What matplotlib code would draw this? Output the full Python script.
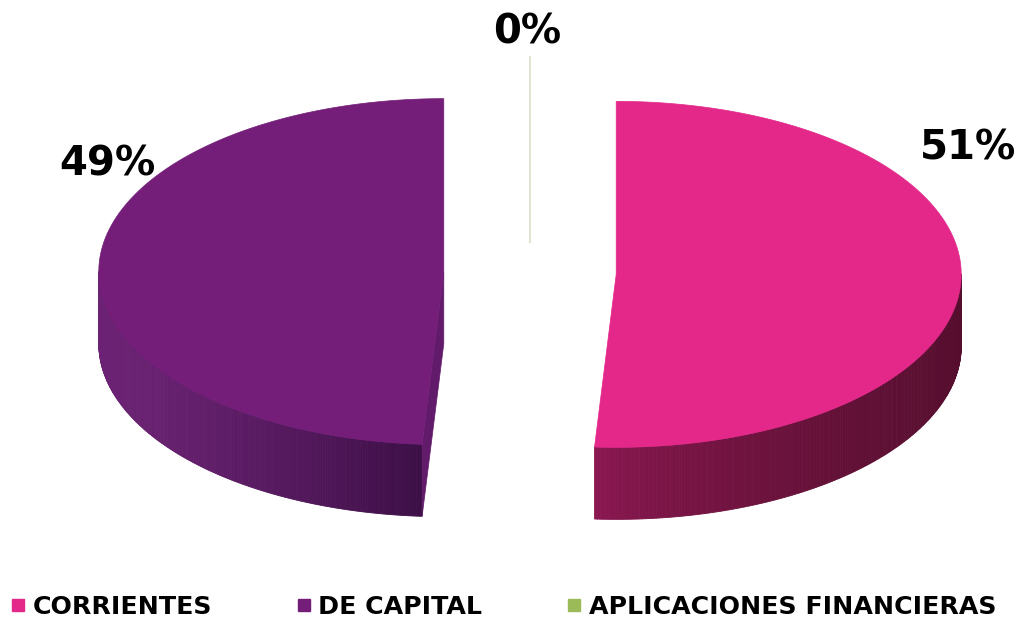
import numpy as np
import matplotlib
matplotlib.use("Agg")
import matplotlib.pyplot as plt
from matplotlib.collections import PolyCollection
from matplotlib.patches import Polygon
from matplotlib.lines import Line2D
from matplotlib.colors import to_rgb

categories = ["CORRIENTES", "DE CAPITAL", "APLICACIONES FINANCIERAS"]
values = [51, 49, 0]
labels = ["51%", "49%", "0%"]
top_colors = ["#E3288A", "#741E7A", "#9BBB59"]
side_left_colors = ["#8C1852", "#6C2274", "#9BBB59"]
side_right_colors = ["#560E2E", "#3C0F46", "#9BBB59"]

W, H = 1026, 621
fig = plt.figure(figsize=(W / 100, H / 100), dpi=100)
ax = fig.add_axes([0, 0, 1, 1])
ax.set_xlim(0, W)
ax.set_ylim(H, 0)
ax.axis("off")

# layout (pixels)
CX, CY = 530, 273
RX, RY = 345, 173
DEPTH = 72
EXPLODE = 0.25


def pt(cx, cy, th, r=1.0):
    return (cx + r * RX * np.sin(th), cy - r * RY * np.cos(th))


def lerp(c1, c2, t):
    a, b = np.array(to_rgb(c1)), np.array(to_rgb(c2))
    return tuple(a + (b - a) * t)


total = sum(values)
start = 0.0
slices = []
for i, v in enumerate(values):
    a0 = start
    a1 = start + 2 * np.pi * v / total
    start = a1
    mid = (a0 + a1) / 2
    cx = CX + EXPLODE * RX * np.sin(mid)
    cy = CY - EXPLODE * RY * np.cos(mid)
    slices.append((i, a0, a1, cx, cy))

# zero slice: thin line
for i, a0, a1, cx, cy in slices:
    if values[i] == 0:
        x1, y1 = pt(cx, cy, a0)
        ax.plot([cx, x1], [cy + 12, y1], color="#E0E5D2", lw=1.5, zorder=1)

order = [s for s in slices if values[s[0]] > 0]
order.sort(key=lambda s: s[3])
for i, a0, a1, cx, cy in order:
    # outer side face (front facing where pi/2 < theta < 3pi/2)
    s0, s1 = max(a0, np.pi / 2), min(a1, 3 * np.pi / 2)
    if s1 > s0:
        ths = np.linspace(s0, s1, 200)
        xs = [pt(cx, cy, t)[0] for t in ths]
        xmin, xmax = min(xs), max(xs)
        quads, cols = [], []
        for k in range(len(ths) - 1):
            p0 = pt(cx, cy, ths[k])
            p1 = pt(cx, cy, ths[k + 1])
            quads.append([p0, p1, (p1[0], p1[1] + DEPTH), (p0[0], p0[1] + DEPTH)])
            xm = (p0[0] + p1[0]) / 2
            t = (xm - xmin) / (xmax - xmin)
            if i == 0:
                cols.append(lerp(side_left_colors[i], side_right_colors[i], t ** 0.7))
            else:
                cols.append(lerp(side_left_colors[i], side_right_colors[i], t ** 1.3))
        pc = PolyCollection(quads, facecolors=cols, edgecolors=cols, linewidths=0.6, zorder=2)
        ax.add_collection(pc)
    # radial faces that face the viewer
    for ang in (a0, a1):
        if np.cos(ang) < 0:
            ox, oy = pt(cx, cy, ang)
            if (ang == a0 and np.sin(ang) < 0) or (ang == a1 and np.sin(ang) > 0):
                face = [(cx, cy), (ox, oy), (ox, oy + DEPTH), (cx, cy + DEPTH)]
                ax.add_patch(Polygon(face, closed=True, facecolor="#621A6A",
                                     edgecolor="#621A6A", lw=0.5, zorder=2.5))
    # top face
    ths = np.linspace(a0, a1, 300)
    poly = [(cx, cy)] + [pt(cx, cy, t) for t in ths]
    ax.add_patch(Polygon(poly, closed=True, facecolor=top_colors[i],
                         edgecolor=top_colors[i], lw=0.5, zorder=3))

# percentage labels
label_pos = {0: (968, 148), 1: (107, 165), 2: (527, 32)}
for i in range(len(values)):
    x, y = label_pos[i]
    ax.text(x, y, labels[i], ha="center", va="center", fontsize=29,
            fontweight="bold", color="black", family="DejaVu Sans", zorder=5)

handles = [Line2D([], [], marker="s", linestyle="none", markersize=9,
                  markerfacecolor=c, markeredgecolor=c) for c in top_colors]
leg = fig.legend(handles, categories, loc="center left", bbox_to_anchor=(0.006, 0.022),
                 ncol=3, frameon=False, handlelength=0.55, handletextpad=0.3,
                 columnspacing=3.35, borderaxespad=0, borderpad=0.2,
                 prop={"family": "DejaVu Sans", "weight": "bold", "size": 18.2})

fig.savefig("out.png", dpi=100)
